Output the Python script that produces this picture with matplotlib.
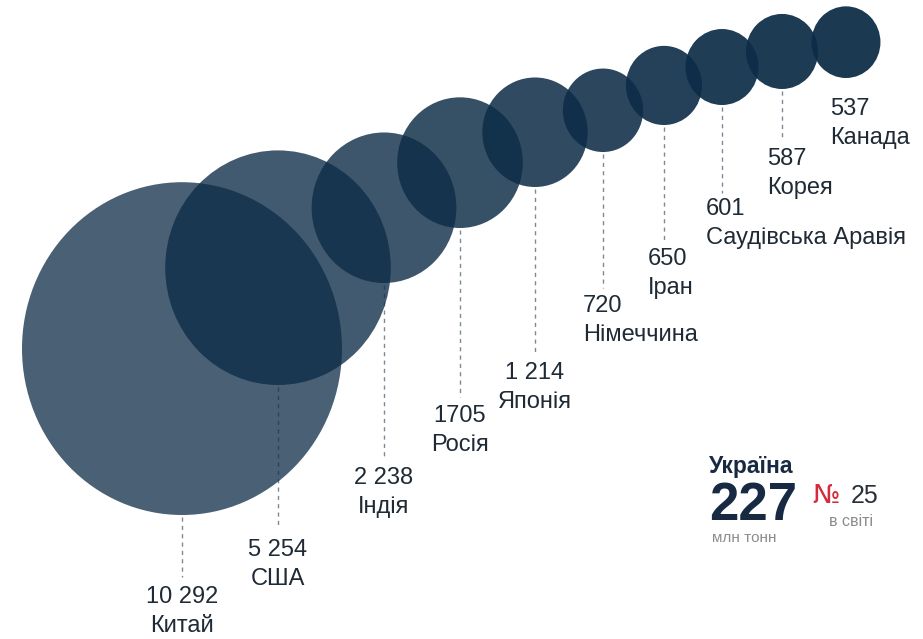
import matplotlib
matplotlib.use("Agg")
import matplotlib.pyplot as plt
from matplotlib.patches import Ellipse
import numpy as np

# ---- data ----
countries = ["Китай", "США", "Індія", "Росія", "Японія", "Німеччина",
             "Іран", "Саудівська Аравія", "Корея", "Канада"]
values = [10292, 5254, 2238, 1705, 1214, 720, 650, 601, 587, 537]
value_labels = ["10 292", "5 254", "2 238", "1705", "1 214", "720",
                "650", "601", "587", "537"]
ukraine_name = "Україна"
ukraine_value = "227"
ukraine_unit = "млн тонн"
ukraine_rank = "25"
ukraine_rank_note = "в світі"

# ---- layout (pixel space) ----
W, H = 923, 639
cx = [182, 278, 384, 460, 535, 603, 664, 722, 782, 846]
bottom = [515, 385, 283, 228, 187, 152, 125, 105, 89, 78]
line_end = [577, 527, 458, 397, 353, 288, 240, 193, 140, None]
num_y = [597, 550, 478, 416, 373, 306, 259, 209, 159, 109]
name_gap = 29
label_ha = ["center"] * 5 + ["left"] * 5
label_dx = [0, 0, 0, 0, 0, -20, -16, -16, -15, -16]
alphas = [0.75, 0.78, 0.80, 0.83, 0.86, 0.88, 0.90, 0.92, 0.93, 0.94]
r_max = 160       # pixel radius of the largest bubble
power = 0.52      # size scale exponent
stretch = 1.04    # vertical stretch of the bubbles

radii = [r_max * (v / max(values)) ** power for v in values]

base = "#0d2c47"
txt = "#1f2a35"
font = ["Liberation Sans", "DejaVu Sans"]

fig = plt.figure(figsize=(W / 100, H / 100), dpi=100)
ax = fig.add_axes([0, 0, 1, 1])
ax.set_xlim(0, W)
ax.set_ylim(H, 0)
ax.axis("off")

for i, v in enumerate(values):
    ry = radii[i] * stretch
    ax.add_patch(Ellipse((cx[i], bottom[i] - ry), 2 * radii[i], 2 * ry,
                         facecolor=base, alpha=alphas[i], edgecolor="none",
                         zorder=2 + i))

for i, v in enumerate(values):
    if line_end[i] is not None:
        ax.plot([cx[i], cx[i]], [bottom[i] + 2, line_end[i]],
                color="#7d8a96", lw=1.0, dashes=(3, 3), zorder=1)
    x = cx[i] + label_dx[i]
    ax.text(x, num_y[i], value_labels[i], ha=label_ha[i], va="center",
            fontsize=17, color=txt, family=font)
    ax.text(x, num_y[i] + name_gap, countries[i], ha=label_ha[i], va="center",
            fontsize=17, color=txt, family=font)

# Ukraine block
navy = "#172a42"
ax.text(709, 467, ukraine_name, ha="left", va="center", fontsize=16.5,
        fontweight="bold", color=navy, family=font)
ax.text(709, 506, ukraine_value, ha="left", va="center", fontsize=38,
        fontweight="bold", color=navy, family=font)
ax.text(712, 538, ukraine_unit, ha="left", va="center", fontsize=11,
        color="#8c8c8c", family=font)
ax.text(812, 496, "№", ha="left", va="center", fontsize=19,
        color="#d42a3c", family=["DejaVu Sans"])
ax.text(851, 496, ukraine_rank, ha="left", va="center", fontsize=18,
        color="#2a3038", family=font)
ax.text(851, 521, ukraine_rank_note, ha="center", va="center", fontsize=11.5,
        color="#8c8c8c", family=font)

fig.savefig("out.png", dpi=100)
